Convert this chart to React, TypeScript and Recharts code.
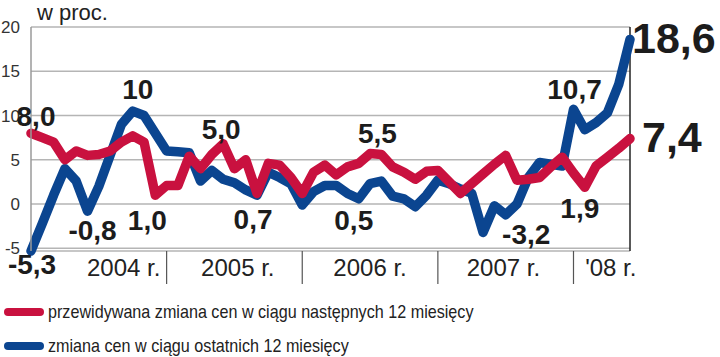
import { LineChart, Line, XAxis, YAxis, CartesianGrid, ReferenceLine, Legend } from 'recharts';

// miesiące: styczeń 2004 - czerwiec 2008
const years = [2004, 2005, 2006, 2007, 2008];
const monthsInLastYear = 6;
const months = years.flatMap((y) =>
  Array.from({ length: y === 2008 ? monthsInLastYear : 12 }, (_, m) => `${String(m + 1).padStart(2, '0')}.${y}`)
);

// przewidywana zmiana cen w ciągu następnych 12 miesięcy
const expected = [
  8.0, 7.5, 7.0, 5.0, 6.0, 5.5, 5.6, 6.0, 7.0, 7.7,
  7.0, 1.0, 2.1, 2.1, 5.4, 4.0, 5.6, 6.8, 4.0, 5.0,
  1.2, 4.6, 4.4, 3.0, 1.2, 3.6, 4.4, 3.3, 4.2, 4.6,
  5.7, 5.6, 4.2, 3.6, 2.8, 3.7, 3.8, 2.5, 1.2, 2.3,
  3.4, 4.5, 5.5, 2.7, 2.8, 3.0, 4.2, 5.3, 3.5, 1.9,
  4.3, 5.3, 6.3, 7.4,
];

// zmiana cen w ciągu ostatnich 12 miesięcy
const past = [
  -5.3, -2.2, 1.0, 4.0, 2.6, -0.8, 2.0, 5.5, 9.0, 10.5,
  10.0, 8.0, 6.0, 5.9, 5.8, 2.6, 3.8, 2.8, 2.4, 1.6,
  1.0, 3.6, 3.0, 2.3, -0.1, 1.4, 2.1, 2.1, 1.2, 0.6,
  2.3, 2.6, 0.9, 0.6, -0.3, 1.0, 2.7, 2.3, 1.7, 1.2,
  -3.2, -0.2, -1.2, 0.0, 3.0, 4.7, 4.5, 4.3, 10.7, 8.4,
  9.2, 10.3, 13.5, 18.6,
];

const yTicks = [-5, 0, 5, 10, 15, 20];
const yearLabels = ['2004 r.', '2005 r.', '2006 r.', '2007 r.', "'08 r."];
const yearStarts = [12, 24, 36, 48];

const expectedNotes = [
  { i: 0, text: '8,0' },
  { i: 11, text: '1,0' },
  { i: 17, text: '5,0' },
  { i: 20, text: '0,7' },
  { i: 31, text: '5,5' },
  { i: 49, text: '1,9' },
  { i: 53, text: '7,4' },
];
const pastNotes = [
  { i: 0, text: '-5,3' },
  { i: 5, text: '-0,8' },
  { i: 9, text: '10' },
  { i: 29, text: '0,5' },
  { i: 40, text: '-3,2' },
  { i: 48, text: '10,7' },
  { i: 53, text: '18,6' },
];

const seriesNames = {
  expected: 'przewidywana zmiana cen w ciągu następnych 12 miesięcy',
  past: 'zmiana cen w ciągu ostatnich 12 miesięcy',
};

const RED = '#c9113f';
const BLUE = '#0b4590';
const FONT = '"Liberation Sans", Arial, sans-serif';

const data = months.map((m, i) => ({ i, month: m, expected: expected[i], past: past[i] }));

// where each note sits relative to its point
const notePlace: Record<string, { dx: number; dy: number; anchor?: string; size?: number }> = {
  '8,0': { dx: 5, dy: -7 },
  '1,0': { dx: -8, dy: 35 },
  '5,0': { dx: -2, dy: -5 },
  '0,7': { dx: -4, dy: 36 },
  '5,5': { dx: -4, dy: -11 },
  '1,9': { dx: -5, dy: 31 },
  '7,4': { dx: 12, dy: 13, anchor: 'start', size: 43 },
  '-5,3': { dx: 1, dy: 23 },
  '-0,8': { dx: 5, dy: 29 },
  '10': { dx: 5, dy: -12 },
  '0,5': { dx: -5, dy: 31 },
  '-3,2': { dx: 19, dy: 12, anchor: 'start' },
  '10,7': { dx: 1, dy: -10 },
  '18,6': { dx: 2, dy: 14, anchor: 'start', size: 43 },
};

const noteLabel = (notes: { i: number; text: string }[]) => (props: any) => {
  const { x, y, index } = props;
  const note = notes.find((n) => n.i === index);
  if (!note) return <g key={`n-${index}`} />;
  const p = notePlace[note.text];
  return (
    <text
      key={`n-${index}`}
      x={x + p.dx}
      y={y + p.dy}
      textAnchor={p.anchor ?? 'middle'}
      fontSize={p.size ?? 28}
      fontWeight="bold"
      fontFamily={FONT}
      fill="#1c1c1c"
    >
      {note.text}
    </text>
  );
};

const yearTickPos = [8.2, 18.3, 30, 41.8, 51.3];

const YearTick = (props: any) => {
  const { x, y, index } = props;
  return (
    <text x={x} y={y + 24} textAnchor="middle" fontSize={24} fontFamily={FONT} fill="#222">
      {yearLabels[index]}
    </text>
  );
};

const LegendBox = () => (
  <div style={{ fontFamily: FONT, fontSize: 19, color: '#222' }}>
    {[
      { name: seriesNames.expected, color: RED },
      { name: seriesNames.past, color: BLUE },
    ].map((s) => (
      <div key={s.name} style={{ display: 'flex', alignItems: 'center', height: 34 }}>
        <svg width={46} height={12} style={{ marginLeft: 2, flex: 'none' }}>
          <line x1={6} y1={6} x2={38} y2={6} stroke={s.color} strokeWidth={8} strokeLinecap="round" />
        </svg>
        <span style={{ display: 'inline-block', whiteSpace: 'nowrap', transform: 'scaleX(0.85)', transformOrigin: 'left center' }}>
          {s.name}
        </span>
      </div>
    ))}
  </div>
);

export default function App() {
  return (
    <div style={{ position: 'absolute', left: 0, top: 0, width: 720, height: 357, background: '#fff' }}>
      <div style={{ position: 'absolute', left: 37, top: 0, fontFamily: FONT, fontSize: 22, color: '#222' }}>
        w proc.
      </div>
      <LineChart width={720} height={357} data={data} margin={{ top: 27, right: 90, bottom: 65, left: 0 }}>
        <CartesianGrid vertical={false} stroke="#b5b5b5" strokeWidth={1.5} />
        <XAxis
          xAxisId="months"
          dataKey="i"
          type="number"
          domain={[0, 53]}
          ticks={yearStarts}
          height={1}
          axisLine={false}
          tickSize={33}
          tickLine={{ stroke: '#555', strokeWidth: 1.2 }}
          tick={() => <g />}
        />
        <XAxis
          xAxisId="years"
          dataKey="i"
          type="number"
          domain={[0, 53]}
          ticks={yearTickPos}
          height={40}
          axisLine={false}
          tickLine={false}
          tickSize={0}
          tickMargin={0}
          tick={<YearTick />}
          interval={0}
        />
        <YAxis
          domain={[-5, 20]}
          ticks={yTicks}
          width={31}
          tickLine={false}
          tickSize={0}
          tickMargin={11}
          axisLine={{ stroke: '#9a9a9a', strokeWidth: 1.5 }}
          tick={{ fontSize: 17, fontFamily: FONT, fill: '#333' }}
        />
        <ReferenceLine xAxisId="months" x={53} stroke="#222" strokeWidth={1.5} />
        <Legend
          layout="horizontal"
          verticalAlign="middle"
          align="center"
          wrapperStyle={{ top: 295, left: 0, width: 720 }}
          content={() => <LegendBox />}
        />
        <Line
          xAxisId="months"
          type="linear"
          dataKey="past"
          name={seriesNames.past}
          stroke={BLUE}
          strokeWidth={9.5}
          strokeLinejoin="round"
          strokeLinecap="round"
          dot={false}
          isAnimationActive={false}
          label={noteLabel(pastNotes)}
        />
        <Line
          xAxisId="months"
          type="linear"
          dataKey="expected"
          name={seriesNames.expected}
          stroke={RED}
          strokeWidth={9.5}
          strokeLinejoin="round"
          strokeLinecap="round"
          dot={false}
          isAnimationActive={false}
          label={noteLabel(expectedNotes)}
        />
      </LineChart>
    </div>
  );
}
